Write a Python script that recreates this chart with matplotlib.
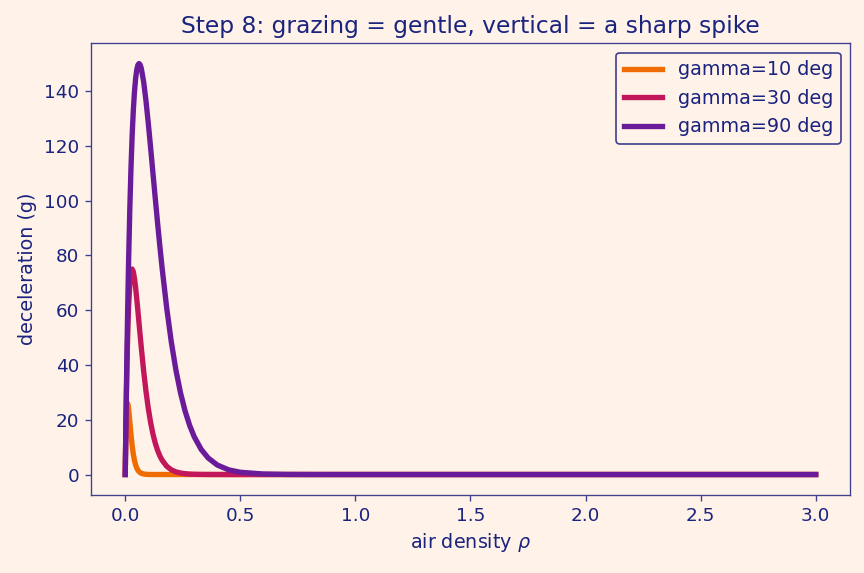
import matplotlib
matplotlib.use("Agg")
import matplotlib.pyplot as plt

# air density grid (shared by all three curves)
rho = [0, 0.0025, 0.005, 0.0075, 0.01, 0.0125, 0.015, 0.02, 0.025, 0.03,
       0.035, 0.04, 0.045, 0.05, 0.055, 0.06, 0.065, 0.07, 0.08, 0.09,
       0.1, 0.11, 0.12, 0.13, 0.14, 0.15, 0.16, 0.18, 0.2, 0.22,
       0.24, 0.26, 0.28, 0.3, 0.33, 0.36, 0.4, 0.45, 0.5, 0.6,
       0.7, 0.8, 1.0, 1.5, 2.0, 2.5, 3.0]

decel_10 = [0, 13.76, 21.43, 25.04, 26.0, 25.31, 23.65, 19.13, 14.50, 10.56,
            7.47, 5.18, 3.53, 2.38, 1.59, 1.05, 0.69, 0.45, 0.19, 0.08,
            0.03, 0.01, 0, 0, 0, 0, 0, 0, 0, 0,
            0, 0, 0, 0, 0, 0, 0, 0, 0, 0,
            0, 0, 0, 0, 0, 0, 0]

decel_30 = [0, 15.63, 28.76, 39.70, 48.69, 56.0, 61.83, 69.78, 73.84, 75.0,
            74.07, 71.66, 68.24, 64.18, 59.76, 55.18, 50.61, 46.13, 37.78, 30.45,
            24.25, 19.11, 14.94, 11.60, 8.95, 6.87, 5.25, 3.03, 1.73, 0.98,
            0.55, 0.30, 0.17, 0.09, 0.04, 0.015, 0.005, 0, 0, 0,
            0, 0, 0, 0, 0, 0, 0]

decel_90 = [0, 16.30, 31.26, 44.98, 57.52, 68.97, 79.39, 97.38, 112.0, 123.65,
            132.73, 139.56, 144.45, 147.67, 149.45, 150.0, 149.51, 148.13, 143.31, 136.47,
            128.36, 119.51, 110.36, 101.21, 92.26, 83.67, 75.55, 60.90, 48.49, 38.21,
            29.87, 23.19, 17.89, 13.74, 9.17, 6.06, 3.46, 1.69, 0.82, 0.19,
            0.04, 0.01, 0, 0, 0, 0, 0]

labels = ["gamma=10 deg", "gamma=30 deg", "gamma=90 deg"]
colors = ["#EF6C00", "#C2185B", "#6A1B9A"]

bg = "#FFF2E8"
txt = "#1A237E"
spine = "#3F3F8F"

fig = plt.figure(figsize=(7.2, 4.775), dpi=120, facecolor=bg)
ax = fig.add_axes([0.105, 0.136, 0.879, 0.789])
ax.set_facecolor(bg)

for y, lab, c in zip([decel_10, decel_30, decel_90], labels, colors):
    ax.plot(rho, y, color=c, lw=3.2, label=lab)

ax.set_title("Step 8: grazing = gentle, vertical = a sharp spike", color=txt, fontsize=14)
ax.set_xlabel(r"air density $\rho$", color=txt, fontsize=11.5)
ax.set_ylabel("deceleration (g)", color=txt, fontsize=11.5)
ax.set_xticks([0, 0.5, 1.0, 1.5, 2.0, 2.5, 3.0])
ax.set_yticks([0, 20, 40, 60, 80, 100, 120, 140])
ax.tick_params(colors=txt, labelsize=11)
for s in ax.spines.values():
    s.set_color(spine)
ax.tick_params(axis="both", color=spine)

leg = ax.legend(loc="upper right", facecolor=bg, edgecolor=spine, fontsize=11.5,
                framealpha=1.0)
for t in leg.get_texts():
    t.set_color(txt)

fig.savefig("out.png", dpi=120, facecolor=bg)
